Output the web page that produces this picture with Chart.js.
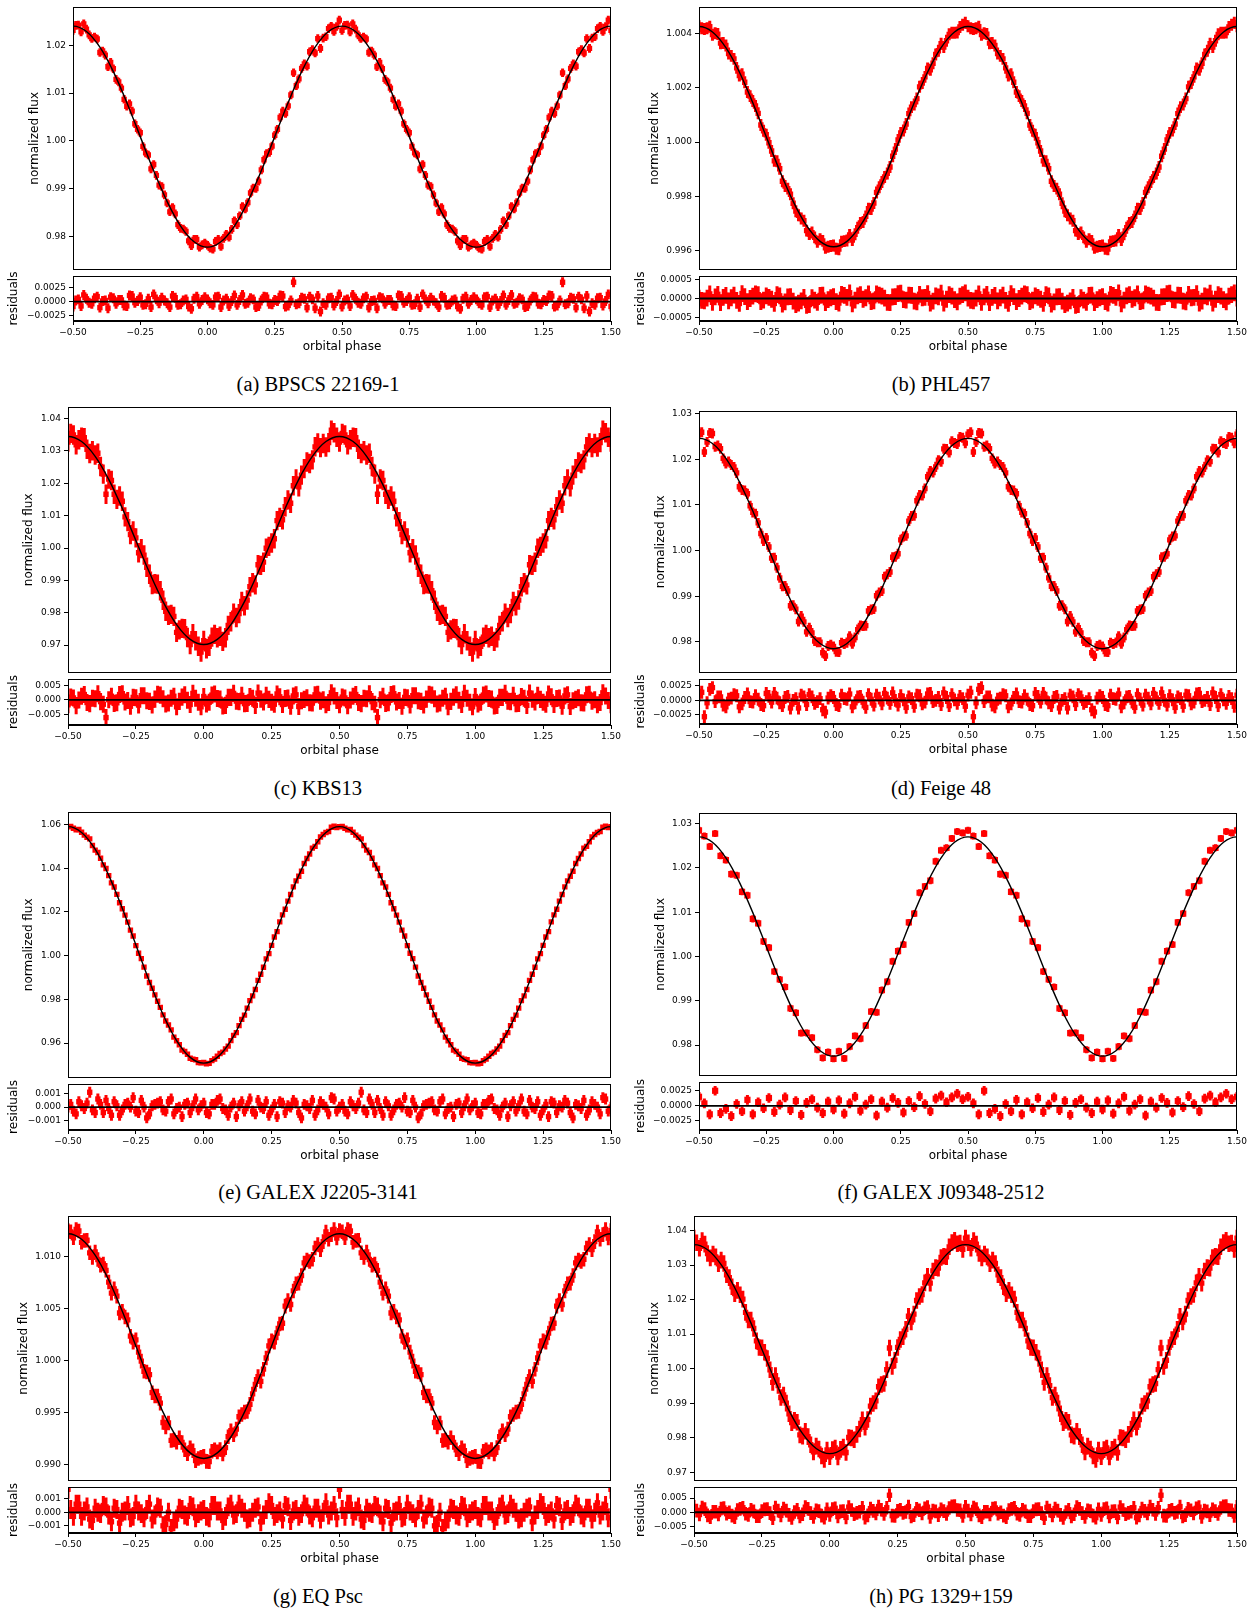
<!DOCTYPE html>
<html>
<head>
<meta charset="utf-8">
<script src="https://cdn.jsdelivr.net/npm/chart.js@4.4.1/dist/chart.umd.min.js"></script>
<style>
  body { margin: 0; background: #fff; width: 1260px; height: 1612px; position: relative; overflow: hidden; }
  canvas { position: absolute; }
  .cap { position: absolute; font-family: "Liberation Serif", "Times New Roman", serif; font-size: 20.5px; color: #000;
         transform: translate(-50%, -50%); white-space: nowrap; }
</style>
</head>
<body>
<script>
// phase-folded data, one cycle; plotted again at phase-1 and phase+1 like the original
const PHASE = [0.00,0.02,0.04,0.06,0.08,0.10,0.12,0.14,0.16,0.18,0.20,0.22,0.24,0.26,0.28,0.30,0.32,0.34,0.36,0.38,
               0.40,0.42,0.44,0.46,0.48,0.50,0.52,0.54,0.56,0.58,0.60,0.62,0.64,0.66,0.68,0.70,0.72,0.74,0.76,0.78,
               0.80,0.82,0.84,0.86,0.88,0.90,0.92,0.94,0.96,0.98];
const PHASE2 = [0.01,0.03,0.05,0.07,0.09,0.11,0.13,0.15,0.17,0.19,0.21,0.23,0.25,0.27,0.29,0.31,0.33,0.35,0.37,0.39,
                0.41,0.43,0.45,0.47,0.49,0.51,0.53,0.55,0.57,0.59,0.61,0.63,0.65,0.67,0.69,0.71,0.73,0.75,0.77,0.79,
                0.81,0.83,0.85,0.87,0.89,0.91,0.93,0.95,0.97,0.99];
const PHASE_ERR = 0.006; // half width of a phase bin
const MODEL_PHASE = [0.00,0.05,0.10,0.15,0.20,0.25,0.30,0.35,0.40,0.45,0.50,0.55,0.60,0.65,0.70,0.75,0.80,0.85,0.90,0.95,1.00];
const XTICKS = [-0.5,-0.25,0,0.25,0.5,0.75,1,1.25,1.5];

// (a) BPSCS 22169-1
const FLUX_A = [0.97820,0.97738,0.97943,0.97962,0.97986,0.98331,0.98436,0.98578,0.98912,0.99006,
                0.99396,0.99737,0.99895,1.00245,1.00623,1.00734,1.01424,1.01298,1.01612,1.01864,
                1.01839,1.01934,1.02178,1.02397,1.02392,1.02310,1.02422,1.02447,1.02218,1.02174,
                1.01849,1.01794,1.01642,1.01288,1.01104,1.00724,1.00623,1.00245,0.99885,0.99707,
                0.99506,0.99076,0.98872,0.98518,0.98476,0.98171,0.98106,0.97812,0.97943,0.97828];
const FLUX2_A = [0.97755,0.97901,0.97793,0.98050,0.98150,0.98250,0.98629,0.98712,0.99017,0.99160,
                 0.99606,0.99761,1.00120,1.00489,1.00574,1.00960,1.01153,1.01518,1.01561,1.01910,
                 1.02140,1.02150,1.02347,1.02289,1.02525,1.02415,1.02279,1.02337,1.02140,1.02130,
                 1.01880,1.01551,1.01508,1.01233,1.00870,1.00774,1.00359,1.00170,0.99751,0.99416,
                 0.99280,0.99047,0.98702,0.98609,0.98250,0.98160,0.97910,0.97943,0.97781,0.97865];
const RES_A = [0.0004,-0.0006,0.0009,0.0002,-0.0008,0.0011,0.0003,-0.0004,0.0006,-0.0010,
               0.0002,0.0008,-0.0005,0.0001,0.0010,-0.0007,0.0035,-0.0003,0.0005,0.0009,
               -0.0012,-0.0018,-0.0006,0.0007,0.0001,-0.0009,0.0004,0.0012,-0.0002,0.0006,
               -0.0011,0.0002,0.0008,-0.0004,0.0003,-0.0008,0.0010,0.0001,-0.0006,0.0005,
               0.0013,-0.0003,0.0002,-0.0010,0.0007,-0.0005,0.0004,-0.0013,0.0009,0.0003];
const RES2_A = [-0.0003,0.0008,-0.0010,0.0005,0.0001,-0.0006,0.0012,-0.0002,0.0004,-0.0008,
                0.0009,-0.0004,0.0003,0.0011,-0.0009,0.0002,-0.0005,0.0007,-0.0011,0.0004,
                0.0010,-0.0003,0.0006,-0.0007,0.0013,0.0002,-0.0008,0.0005,-0.0004,0.0009,
                0.0001,-0.0012,0.0006,0.0003,-0.0007,0.0011,-0.0002,0.0008,-0.0005,-0.0010,
                0.0004,0.0007,-0.0003,0.0010,-0.0006,0.0002,-0.0009,0.0005,-0.0004,0.0008];
const MODEL_A = [0.97780,0.97893,0.98221,0.98732,0.99376,1.00090,1.00804,1.01448,1.01959,1.02287,1.02400,
                 1.02287,1.01959,1.01448,1.00804,1.00090,0.99376,0.98732,0.98221,0.97893,0.97780];
const YTICKS_A = [0.98,0.99,1.00,1.01,1.02];
const RTICKS_A = [-0.0025,0,0.0025];

// (b) PHL457
const FLUX_B = [0.996200,0.996062,0.996357,0.996584,0.996611,0.997024,0.997268,0.997539,0.998150,0.998536,
                0.998849,0.999481,1.000076,1.000424,1.001049,1.001381,1.002034,1.002400,1.002661,1.003222,
                1.003616,1.003729,1.004026,1.004033,1.004318,1.004260,1.004158,1.004243,1.004006,1.003639,
                1.003556,1.003172,1.002731,1.002500,1.001844,1.001511,1.001059,1.000414,0.999976,0.999311,
                0.999019,0.998386,0.998080,0.997459,0.997188,0.996744,0.996671,0.996334,0.996367,0.996152];
const FLUX2_B = [0.996078,0.996332,0.996378,0.996396,0.996851,0.997059,0.997548,0.997759,0.998339,0.998719,
                 0.999083,0.999743,1.000340,1.000667,1.001287,1.001601,1.002171,1.002711,1.002902,1.003361,
                 1.003499,1.003964,1.004022,1.004238,1.004392,1.004192,1.004188,1.003952,1.003974,1.003649,
                 1.003261,1.003062,1.002451,1.002201,1.001691,1.001327,1.000627,1.000270,0.999673,0.999293,
                 0.998559,0.998289,0.997749,0.997308,0.997109,0.996621,0.996496,0.996428,0.996112,0.996178];
const RES_B = [0.00005,-0.00012,0.00008,0.00015,-0.00004,0.00010,0.00002,-0.00008,0.00012,0.00006,
               -0.00010,0.00004,0.00013,-0.00003,0.00009,-0.00007,0.00011,0.00003,-0.00012,0.00007,
               0.00014,-0.00002,0.00006,-0.00009,0.00010,0.00001,-0.00006,0.00012,0.00004,-0.00011,
               0.00008,0.00002,-0.00005,0.00013,-0.00008,0.00006,0.00010,-0.00004,0.00003,-0.00013,
               0.00007,-0.00009,0.00005,-0.00016,-0.00006,-0.00018,0.00002,-0.00010,0.00009,-0.00003];
const RES2_B = [-0.00008,0.00011,0.00003,-0.00014,0.00007,-0.00002,0.00012,-0.00006,0.00009,0.00001,
                -0.00011,0.00005,0.00014,-0.00004,0.00008,-0.00009,0.00002,0.00013,-0.00007,0.00004,
                -0.00012,0.00010,-0.00003,0.00006,0.00015,-0.00005,0.00001,-0.00010,0.00011,0.00003,
                -0.00006,0.00009,-0.00013,0.00005,0.00000,0.00012,-0.00008,0.00007,-0.00002,0.00010,
                -0.00015,0.00004,-0.00007,-0.00012,0.00003,-0.00016,-0.00004,0.00008,-0.00011,0.00002];
const MODEL_B = [0.996150,0.996348,0.996924,0.997819,0.998949,1.000200,1.001451,1.002581,1.003476,1.004052,1.004250,
                 1.004052,1.003476,1.002581,1.001451,1.000200,0.998949,0.997819,0.996924,0.996348,0.996150];
const YTICKS_B = [0.996,0.998,1.000,1.002,1.004];
const RTICKS_B = [-0.0005,0,0.0005];

// (c) KBS13
const FLUX_C = [0.97140,0.96965,0.97331,0.97276,0.97228,0.97724,0.97851,0.98346,0.98392,0.98926,
                0.99482,0.99563,1.00053,1.00287,1.00947,1.01278,1.01384,1.02138,1.02254,1.02659,
                1.02726,1.03252,1.03234,1.03259,1.03565,1.03280,1.03495,1.03349,1.03414,1.02922,
                1.02876,1.02519,1.01664,1.02088,1.01504,1.01448,1.00817,1.00527,0.99853,0.99783,
                0.99192,0.98896,0.98682,0.98046,0.97951,0.97394,0.97518,0.97236,0.97351,0.96965];
const FLUX2_C = [0.96886,0.97247,0.97227,0.97116,0.97611,0.97988,0.97974,0.98215,0.98806,0.98862,
                 0.99465,0.99992,1.00155,1.00848,1.00875,1.01488,1.01924,1.01895,1.02456,1.02612,
                 1.03129,1.03104,1.03123,1.03643,1.03424,1.03544,1.03193,1.03423,1.03054,1.03009,
                 1.02932,1.02286,1.02135,1.01664,1.01608,1.00965,1.00418,1.00315,0.99982,0.99405,
                 0.98872,0.98886,0.98385,0.97924,0.97888,0.97471,0.97506,0.97017,0.97137,0.96786];
const RES_C = [0.0012,-0.0008,0.0021,0.0003,-0.0019,0.0009,-0.0004,0.0016,-0.0012,0.0006,
               0.0024,-0.0007,0.0002,-0.0015,0.0011,0.0005,-0.0022,0.0018,-0.0003,0.0008,
               -0.0011,0.0020,0.0001,-0.0009,0.0014,-0.0017,0.0007,0.0000,0.0019,-0.0013,
               0.0004,-0.0006,-0.0062,0.0013,-0.0010,0.0022,-0.0002,0.0009,-0.0018,0.0015,
               -0.0005,0.0003,0.0017,-0.0014,0.0006,-0.0024,0.0010,-0.0001,0.0023,-0.0008];
const RES2_C = [-0.0014,0.0017,0.0005,-0.0021,0.0009,0.0023,-0.0006,-0.0013,0.0012,-0.0019,
                0.0003,0.0016,-0.0008,0.0021,-0.0016,0.0007,0.0014,-0.0023,0.0002,-0.0010,
                0.0018,-0.0004,-0.0017,0.0025,-0.0002,0.0010,-0.0020,0.0013,-0.0009,0.0006,
                0.0022,-0.0015,0.0001,-0.0012,0.0019,-0.0007,-0.0022,0.0008,0.0015,-0.0003,
                -0.0018,0.0020,0.0004,-0.0011,0.0013,-0.0005,0.0018,-0.0016,0.0006,-0.0024];
const MODEL_C = [0.97020,0.97177,0.97634,0.98345,0.99242,1.00235,1.01228,1.02125,1.02836,1.03293,1.03450,
                 1.03293,1.02836,1.02125,1.01228,1.00235,0.99242,0.98345,0.97634,0.97177,0.97020];
const YTICKS_C = [0.97,0.98,0.99,1.00,1.01,1.02,1.03,1.04];
const RTICKS_C = [-0.005,0,0.005];

// (d) Feige 48
const FLUX_D = [0.97900,0.97778,0.97952,0.98122,0.98095,0.98360,0.98355,0.98706,0.99010,0.99114,
                0.99483,0.99853,0.99930,1.00310,1.00647,1.00767,1.01216,1.01360,1.01744,1.01835,
                1.01950,1.02225,1.02398,1.02338,1.02472,1.02550,1.02162,1.02578,1.02278,1.02235,
                1.01910,1.01875,1.01704,1.01330,1.01246,1.00837,1.00607,1.00210,1.00080,0.99843,
                0.99403,0.99224,0.98790,0.98716,0.98565,0.98220,0.98195,0.97992,0.97762,0.97908];
const FLUX2_D = [0.97785,0.97981,0.97983,0.97959,0.98269,0.98349,0.98677,0.98720,0.99084,0.99427,
                 0.99532,0.99866,1.00235,1.00324,1.00758,1.01093,1.01206,1.01620,1.01713,1.01981,
                 1.02231,1.02151,1.02357,1.02489,1.02355,1.02595,1.02379,1.02567,1.02301,1.02021,
                 1.01951,1.01833,1.01400,1.01316,1.00983,1.00808,1.00374,1.00275,0.99836,0.99622,
                 0.99217,0.99114,0.98800,0.98447,0.98439,0.98309,0.98019,0.97993,0.97691,0.97935];
const RES_D = [0.0005,-0.0009,0.0003,0.0011,-0.0004,0.0007,-0.0012,0.0002,0.0009,-0.0006,
               0.0004,0.0013,-0.0008,0.0001,0.0006,-0.0010,0.0008,-0.0003,0.0012,0.0000,
               -0.0007,0.0005,0.0010,-0.0005,0.0003,0.0009,-0.0028,0.0019,-0.0002,0.0006,
               -0.0011,0.0004,0.0008,-0.0006,0.0011,-0.0003,0.0002,-0.0009,0.0007,0.0012,
               -0.0004,0.0005,-0.0013,0.0003,0.0009,-0.0007,0.0006,-0.0002,-0.0016,0.0004];
const RES2_D = [-0.0007,0.0009,0.0002,-0.0011,0.0006,-0.0003,0.0010,-0.0008,0.0004,0.0012,
                -0.0005,0.0000,0.0008,-0.0012,0.0003,0.0009,-0.0006,0.0011,-0.0002,0.0005,
                0.0013,-0.0009,0.0001,0.0007,-0.0010,0.0014,-0.0004,0.0022,0.0006,-0.0008,
                0.0002,0.0010,-0.0011,0.0005,-0.0002,0.0008,-0.0007,0.0012,-0.0003,0.0004,
                -0.0009,0.0007,0.0000,-0.0013,0.0006,0.0010,-0.0005,0.0003,-0.0020,0.0008];
const MODEL_D = [0.97850,0.97963,0.98290,0.98800,0.99443,1.00155,1.00867,1.01510,1.02020,1.02347,1.02460,
                 1.02347,1.02020,1.01510,1.00867,1.00155,0.99443,0.98800,0.98290,0.97963,0.97850];
const YTICKS_D = [0.98,0.99,1.00,1.01,1.02,1.03];
const RTICKS_D = [-0.0025,0,0.0025];

// (e) GALEX J2205-3141
const FLUX_E = [0.95110,0.95073,0.95270,0.95520,0.95729,0.96113,0.96476,0.97082,0.97601,0.98156,
                0.98868,0.99466,1.00090,1.00850,1.01544,1.02122,1.02794,1.03419,1.03858,1.04444,
                1.04917,1.05211,1.05540,1.05680,1.05917,1.05900,1.05827,1.05770,1.05510,1.05341,
                1.04827,1.04454,1.03988,1.03329,1.02804,1.02142,1.01534,1.00900,1.00110,0.99476,
                0.98768,0.98206,0.97631,0.97012,0.96606,0.96103,0.95679,0.95490,0.95260,0.95103];
const FLUX2_E = [0.95051,0.95196,0.95395,0.95585,0.95862,0.96352,0.96797,0.97280,0.97943,0.98449,
                 0.99145,0.99852,1.00470,1.01098,1.01865,1.02491,1.03147,1.03630,1.04213,1.04648,
                 1.04998,1.05425,1.05635,1.05874,1.05859,1.05909,1.05754,1.05645,1.05415,1.05038,
                 1.04718,1.04153,1.03660,1.03137,1.02421,1.01855,1.01168,1.00460,0.99862,0.99065,
                 0.98509,0.97913,0.97290,0.96827,0.96272,0.95922,0.95615,0.95305,0.95236,0.95101];
const RES_E = [0.0003,-0.0005,0.0002,0.0006,-0.0002,0.0000,-0.0007,0.0004,0.0001,-0.0003,
               0.0005,-0.0001,-0.0006,0.0002,0.0004,-0.0004,0.0000,0.0003,-0.0008,0.0001,
               0.0005,-0.0002,0.0002,-0.0005,0.0006,0.0000,-0.0003,0.0004,-0.0001,0.0011,
               -0.0004,0.0002,0.0005,-0.0006,0.0001,-0.0002,0.0003,0.0007,-0.0004,0.0000,
               -0.0005,0.0002,0.0004,-0.0003,0.0006,-0.0001,-0.0007,0.0003,0.0001,-0.0002];
const RES2_E = [-0.0004,0.0002,0.0005,-0.0001,-0.0006,0.0003,0.0001,-0.0003,0.0006,-0.0005,
                0.0000,0.0004,-0.0002,-0.0007,0.0003,0.0001,0.0005,-0.0004,0.0002,-0.0001,
                -0.0006,0.0004,0.0000,0.0007,-0.0003,0.0002,-0.0005,0.0001,0.0003,-0.0002,
                0.0006,-0.0004,-0.0001,0.0004,-0.0006,0.0002,0.0000,-0.0003,0.0005,-0.0008,
                0.0001,0.0003,-0.0002,0.0004,-0.0005,0.0000,0.0002,-0.0004,0.0006,0.0001];
const MODEL_E = [0.95080,0.95345,0.96113,0.97310,0.98818,1.00490,1.02162,1.03670,1.04867,1.05635,1.05900,
                 1.05635,1.04867,1.03670,1.02162,1.00490,0.98818,0.97310,0.96113,0.95345,0.95080];
const YTICKS_E = [0.96,0.98,1.00,1.02,1.04,1.06];
const RTICKS_E = [-0.001,0,0.001];

// (f) GALEX J09348-2512 (sparser light curve, one set only)
const FLUX_F = [0.97690,0.97860,0.97698,0.97964,0.98206,0.98143,0.98441,0.98757,0.98739,0.99241,
                0.99430,0.99891,1.00120,1.00270,1.00769,1.00970,1.01439,1.01581,1.01713,1.02149,
                1.02397,1.02454,1.02666,1.02822,1.02790,1.02850,1.02720,1.02482,1.02776,1.02274,
                1.02177,1.01859,1.01833,1.01461,1.01379,1.00850,1.00749,1.00340,1.00200,0.99661,
                0.99480,0.99311,0.98829,0.98727,0.98271,0.98273,0.98166,0.97894,0.97708,0.97840];
const FLUX2_F = [];
const RES_F = [-0.0006,0.0009,-0.0013,0.0004,0.0015,-0.0008,0.0002,0.0011,-0.0016,0.0007,
               -0.0003,0.0013,0.0005,-0.0011,0.0008,-0.0002,0.0016,0.0003,-0.0009,0.0012,
               0.0017,0.0006,0.0014,0.0020,0.0011,0.0015,0.0004,-0.0014,0.0025,-0.0012,
               -0.0005,-0.0017,0.0003,-0.0009,0.0010,-0.0014,0.0006,-0.0004,0.0013,-0.0010,
               0.0002,0.0014,-0.0007,0.0008,-0.0015,0.0005,0.0011,-0.0003,-0.0012,0.0007];
const RES2_F = [];
const MODEL_F = [0.97750,0.97871,0.98223,0.98770,0.99460,1.00225,1.00990,1.01680,1.02227,1.02579,1.02700,
                 1.02579,1.02227,1.01680,1.00990,1.00225,0.99460,0.98770,0.98223,0.97871,0.97750];
const YTICKS_F = [0.98,0.99,1.00,1.01,1.02,1.03];
const RTICKS_F = [-0.0025,0,0.0025];

// (g) EQ Psc
const FLUX_G = [0.99080,0.99029,0.99144,0.99146,0.99164,0.99326,0.99343,0.99482,0.99511,0.99680,
                0.99846,0.99918,1.00142,1.00178,1.00352,1.00524,1.00540,1.00739,1.00818,1.00967,
                1.00974,1.01116,1.01144,1.01166,1.01261,1.01250,1.01181,1.01246,1.01154,1.01036,
                1.01044,1.00917,1.00868,1.00649,1.00620,1.00474,1.00392,1.00178,1.00082,0.99898,
                0.99866,0.99660,0.99591,0.99362,0.99233,0.99216,0.99214,0.99106,0.99134,0.99059];
const FLUX2_G = [0.99032,0.99129,0.99123,0.99103,0.99268,0.99288,0.99461,0.99505,0.99580,0.99772,
                 0.99801,1.00025,1.00190,1.00265,1.00359,1.00578,1.00670,1.00745,1.00939,1.00952,
                 1.01082,1.01067,1.01237,1.01211,1.01178,1.01238,1.01261,1.01137,1.01157,1.00992,
                 1.00972,1.00929,1.00755,1.00690,1.00458,1.00419,1.00235,1.00200,0.99995,0.99891,
                 0.99692,0.99660,0.99405,0.99401,0.99238,0.99258,0.99143,0.99163,0.99039,0.99072];
const RES_G = [0.0002,-0.0004,0.0005,0.0001,-0.0003,0.0006,-0.0001,0.0003,-0.0005,0.0000,
               0.0004,-0.0002,0.0007,-0.0003,0.0001,0.0005,-0.0006,0.0002,-0.0001,0.0004,
               -0.0004,0.0003,0.0000,-0.0002,0.0005,0.0017,-0.0003,0.0006,0.0001,-0.0005,
               0.0003,-0.0001,0.0004,-0.0007,0.0002,0.0000,0.0005,-0.0003,0.0001,-0.0004,
               0.0006,-0.0002,0.0003,-0.0009,-0.0012,-0.0005,0.0002,-0.0003,0.0004,-0.0001];
const RES2_G = [-0.0003,0.0005,0.0001,-0.0006,0.0004,-0.0002,0.0006,0.0000,-0.0004,0.0003,
                -0.0007,0.0002,0.0005,-0.0001,-0.0005,0.0004,0.0001,-0.0003,0.0006,-0.0002,
                0.0003,-0.0005,0.0007,0.0001,-0.0004,0.0002,0.0006,-0.0003,0.0004,-0.0006,
                0.0000,0.0005,-0.0002,0.0003,-0.0008,0.0001,-0.0004,0.0006,-0.0001,0.0002,
                -0.0005,0.0004,-0.0010,0.0000,-0.0007,0.0003,-0.0002,0.0005,-0.0004,0.0001];
const MODEL_G = [0.99060,0.99113,0.99266,0.99505,0.99806,1.00140,1.00474,1.00775,1.01014,1.01167,1.01220,
                 1.01167,1.01014,1.00775,1.00474,1.00140,0.99806,0.99505,0.99266,0.99113,0.99060];
const YTICKS_G = [0.990,0.995,1.000,1.005,1.010];
const RTICKS_G = [-0.001,0,0.001];

// (h) PG 1329+159
const FLUX_H = [0.97450,0.97704,0.97665,0.97572,0.97994,0.98098,0.98520,0.98527,0.98994,0.99477,
                0.99570,1.00598,1.00245,1.00845,1.01142,1.01350,1.01973,1.02146,1.02673,1.02830,
                1.02912,1.03256,1.03528,1.03715,1.03636,1.03780,1.03486,1.03605,1.03208,1.03236,
                1.03142,1.02720,1.02373,1.02266,1.02013,1.01410,1.01162,1.00615,1.00475,0.99968,
                0.99800,0.99167,0.99004,0.98437,0.98450,0.98048,0.98034,0.97592,0.97675,0.97374];
const FLUX2_H = [0.97656,0.97444,0.97728,0.98008,0.97941,0.98254,0.98304,0.98917,0.99068,0.99541,
                 0.99973,1.00066,1.00615,1.00924,1.01517,1.01579,1.02092,1.02483,1.02476,1.02926,
                 1.03219,1.03242,1.03652,1.03616,1.03454,1.03644,1.03706,1.03332,1.03322,1.03039,
                 1.03046,1.02636,1.02173,1.02142,1.01629,1.01407,1.00804,1.00605,1.00296,0.99603,
                 0.99511,0.99238,0.98697,0.98504,0.98084,0.98191,0.97798,0.97758,0.97474,0.97646];
const RES_H = [-0.0009,0.0014,0.0003,-0.0018,0.0008,-0.0002,0.0016,-0.0011,0.0005,0.0020,
               -0.0006,0.0060,-0.0013,0.0009,0.0001,-0.0015,0.0012,-0.0004,0.0018,0.0006,
               -0.0010,0.0004,0.0015,0.0022,0.0007,0.0019,-0.0008,0.0011,-0.0017,0.0002,
               0.0013,-0.0005,-0.0012,0.0008,0.0016,-0.0009,0.0003,-0.0014,0.0010,-0.0003,
               0.0017,-0.0011,0.0006,-0.0020,0.0009,-0.0007,0.0012,-0.0016,0.0004,-0.0019];
const RES2_H = [0.0011,-0.0015,0.0004,0.0018,-0.0007,0.0002,-0.0019,0.0013,-0.0004,0.0009,
                0.0016,-0.0012,0.0005,-0.0002,0.0020,-0.0010,0.0007,0.0014,-0.0016,0.0003,
                0.0010,-0.0006,0.0021,0.0008,-0.0013,0.0006,0.0017,-0.0011,0.0002,-0.0008,
                0.0015,0.0000,-0.0017,0.0012,-0.0005,0.0009,-0.0014,0.0004,0.0011,-0.0021,
                0.0006,0.0013,-0.0009,0.0001,-0.0015,0.0018,-0.0003,0.0007,-0.0012,0.0010];
const MODEL_H = [0.97540,0.97688,0.98118,0.98787,0.99630,1.00565,1.01500,1.02343,1.03012,1.03442,1.03590,
                 1.03442,1.03012,1.02343,1.01500,1.00565,0.99630,0.98787,0.98118,0.97688,0.97540];
const YTICKS_H = [0.97,0.98,0.99,1.00,1.01,1.02,1.03,1.04];
const RTICKS_H = [-0.005,0,0.005];

// flux errors per star
const ERRORS = [0.0009, 0.00022, 0.0030, 0.0011, 0.0004, 0.0008, 0.0007, 0.0024];
const NAMES = ['(a) BPSCS 22169-1', '(b) PHL457', '(c) KBS13', '(d) Feige 48',
               '(e) GALEX J2205-3141', '(f) GALEX J09348-2512', '(g) EQ Psc', '(h) PG 1329+159'];

const SERIES = [
  [FLUX_A, FLUX2_A, RES_A, RES2_A, MODEL_A, YTICKS_A, RTICKS_A],
  [FLUX_B, FLUX2_B, RES_B, RES2_B, MODEL_B, YTICKS_B, RTICKS_B],
  [FLUX_C, FLUX2_C, RES_C, RES2_C, MODEL_C, YTICKS_C, RTICKS_C],
  [FLUX_D, FLUX2_D, RES_D, RES2_D, MODEL_D, YTICKS_D, RTICKS_D],
  [FLUX_E, FLUX2_E, RES_E, RES2_E, MODEL_E, YTICKS_E, RTICKS_E],
  [FLUX_F, FLUX2_F, RES_F, RES2_F, MODEL_F, YTICKS_F, RTICKS_F],
  [FLUX_G, FLUX2_G, RES_G, RES2_G, MODEL_G, YTICKS_G, RTICKS_G],
  [FLUX_H, FLUX2_H, RES_H, RES2_H, MODEL_H, YTICKS_H, RTICKS_H]
];

// page layout of each panel (axes edges in px) and axis limits
const PANELS = [
  {x0: 0,   L: 73,  R: 611,  T: 7,    M: 276,  B: 321,  fx: 35,  rx: 14,  capX: 318, capY: 383.5,  ylim: [0.9731, 1.0280],  rlim: [-0.00352, 0.00463], yd: 2, rd: 4},
  {x0: 630, L: 699, R: 1237, T: 7,    M: 276,  B: 321,  fx: 655, rx: 641, capX: 941, capY: 383.5,  ylim: [0.99531, 1.00497], rlim: [-0.00059, 0.00059], yd: 3, rd: 4},
  {x0: 0,   L: 68,  R: 611,  T: 407,  M: 679,  B: 725,  fx: 29,  rx: 14,  capX: 318, capY: 788.3,  ylim: [0.9615, 1.0436],  rlim: [-0.0088, 0.00736],  yd: 2, rd: 3},
  {x0: 630, L: 699, R: 1237, T: 411,  M: 679,  B: 724,  fx: 661, rx: 641, capX: 941, capY: 788.3,  ylim: [0.97326, 1.0306], rlim: [-0.00405, 0.00368], yd: 2, rd: 4},
  {x0: 0,   L: 68,  R: 611,  T: 812,  M: 1084, B: 1130, fx: 29,  rx: 14,  capX: 318, capY: 1192.2, ylim: [0.9442, 1.0657],  rlim: [-0.00169, 0.00171], yd: 2, rd: 3},
  {x0: 630, L: 699, R: 1237, T: 813,  M: 1082, B: 1130, fx: 661, rx: 641, capX: 941, capY: 1192.2, ylim: [0.9731, 1.0324],  rlim: [-0.0040, 0.00395],  yd: 2, rd: 4},
  {x0: 0,   L: 68,  R: 611,  T: 1216, M: 1487, B: 1533, fx: 24,  rx: 14,  capX: 318, capY: 1596,   ylim: [0.98847, 1.0139], rlim: [-0.00153, 0.00187], yd: 3, rd: 3},
  {x0: 630, L: 694, R: 1237, T: 1216, M: 1487, B: 1533, fx: 655, rx: 641, capX: 941, capY: 1596,   ylim: [0.9676, 1.0442],  rlim: [-0.0073, 0.0089],   yd: 2, rd: 3}
];

Chart.defaults.font.family = 'DejaVu Sans';
Chart.defaults.color = '#000';

const fmt = (v, d) => Number(v).toFixed(d).replace('-', '\u2212');

function fold(values, phases) {
  const pts = [];
  [-1, 0, 1].forEach(k => {
    phases.forEach((p, i) => {
      const x = p + k;
      if (values[i] === undefined) return;
      if (x >= -0.5 - PHASE_ERR && x <= 1.5 + PHASE_ERR) pts.push({x: x, y: values[i]});
    });
  });
  return pts;
}

function foldModel(values) {
  const pts = [];
  [-1, 0, 1].forEach(k => {
    MODEL_PHASE.forEach((p, i) => {
      if (k < 1 && i === MODEL_PHASE.length - 1) return;
      pts.push({x: p + k, y: values[i]});
    });
  });
  return pts;
}

// x and y error bars, drawn under the markers
const errorBars = {
  id: 'errorBars',
  beforeDatasetsDraw(chart) {
    const ds = chart.data.datasets[1];
    const a = chart.chartArea, ctx = chart.ctx;
    const xs = chart.scales.x, ys = chart.scales.y;
    ctx.save();
    ctx.beginPath();
    ctx.rect(a.left, a.top, a.right - a.left, a.bottom - a.top);
    ctx.clip();
    ctx.strokeStyle = '#ff0000';
    ctx.lineCap = 'butt';
    ctx.lineWidth = 3;
    ctx.beginPath();
    ds.data.forEach(pt => {
      const px = xs.getPixelForValue(pt.x);
      const py = ys.getPixelForValue(pt.y);
      ctx.moveTo(px, ys.getPixelForValue(pt.y - ds.err));
      ctx.lineTo(px, ys.getPixelForValue(pt.y + ds.err));
      ctx.moveTo(xs.getPixelForValue(pt.x - PHASE_ERR), py);
      ctx.lineTo(xs.getPixelForValue(pt.x + PHASE_ERR), py);
    });
    ctx.stroke();
    ctx.restore();
  }
};

const frame = {
  id: 'frame',
  afterDraw(chart) {
    const a = chart.chartArea, ctx = chart.ctx;
    const l = Math.round(a.left) + 0.5, t = Math.round(a.top) + 0.5;
    const r = Math.round(a.right) - 0.5, b = Math.round(a.bottom) - 0.5;
    ctx.save();
    ctx.strokeStyle = '#000';
    ctx.lineWidth = 1;
    ctx.strokeRect(l, t, r - l, b - t);
    ctx.restore();
  }
};

function makeCanvas(left, top, w, h) {
  const c = document.createElement('canvas');
  c.width = w; c.height = h;
  c.style.left = left + 'px';
  c.style.top = top + 'px';
  c.style.width = w + 'px';
  c.style.height = h + 'px';
  document.body.appendChild(c);
  return c;
}

function yAxis(lim, ticks, dec, width, title, titleX) {
  return {
    type: 'linear', position: 'left', min: lim[0], max: lim[1],
    afterBuildTicks: s => { s.ticks = ticks.map(v => ({value: v})); },
    afterFit: s => { s.width = width; },
    ticks: {font: {size: 9}, padding: 3, callback: v => fmt(v, dec)},
    grid: {drawOnChartArea: false, drawTicks: true, tickLength: 4, color: '#000'},
    border: {color: '#000'},
    title: {display: true, text: title, font: {size: 12}, padding: {top: titleX - 7.2, bottom: 0}}
  };
}

PANELS.forEach((P, n) => {
  const [flux, flux2, res, res2, model, yticks, rticks] = SERIES[n];
  const err = ERRORS[n];
  const w = P.R - P.x0 + 16;
  const yW = P.L - P.x0;
  const size = flux2.length ? 3.8 : 4.4;

  // light curve
  const c1 = makeCanvas(P.x0, P.T - 10, w, P.M - P.T + 12);
  new Chart(c1, {
    type: 'line',
    data: {datasets: [
      {data: foldModel(model), borderColor: '#000', borderWidth: 1.4, pointRadius: 0,
       cubicInterpolationMode: 'monotone', clip: 0},
      {data: fold(flux, PHASE).concat(fold(flux2, PHASE2)), showLine: false, pointStyle: 'rect', pointRadius: size,
       pointBackgroundColor: '#ff0000', pointBorderWidth: 0, err: err, clip: 0}
    ]},
    options: {
      responsive: false, animation: false, events: [],
      layout: {padding: {left: 0, right: 16, top: 10, bottom: 2}},
      plugins: {legend: {display: false}, tooltip: {enabled: false}},
      scales: {
        x: {type: 'linear', display: false, min: -0.5, max: 1.5},
        y: yAxis(P.ylim, yticks, P.yd, yW, 'normalized flux', P.fx - P.x0)
      }
    },
    plugins: [errorBars, frame]
  });

  // residuals
  const c2 = makeCanvas(P.x0, P.M - 10, w, P.B - P.M + 46);
  new Chart(c2, {
    type: 'line',
    data: {datasets: [
      {data: [{x: -0.5, y: 0}, {x: 1.5, y: 0}], borderColor: '#000', borderWidth: 1.8, pointRadius: 0, clip: 0},
      {data: fold(res, PHASE).concat(fold(res2, PHASE2)), showLine: false, pointStyle: 'rect', pointRadius: size,
       pointBackgroundColor: '#ff0000', pointBorderWidth: 0, err: err, clip: 0}
    ]},
    options: {
      responsive: false, animation: false, events: [],
      layout: {padding: {left: 0, right: 16, top: 10, bottom: 2}},
      plugins: {legend: {display: false}, tooltip: {enabled: false}},
      scales: {
        x: {
          type: 'linear', position: 'bottom', min: -0.5, max: 1.5,
          afterBuildTicks: s => { s.ticks = XTICKS.map(v => ({value: v})); },
          afterFit: s => { s.height = 34; },
          ticks: {font: {size: 9}, padding: 2, maxRotation: 0, autoSkip: false, callback: v => fmt(v, 2)},
          grid: {drawOnChartArea: false, drawTicks: true, tickLength: 4, color: '#000'},
          border: {color: '#000'},
          title: {display: true, text: 'orbital phase', font: {size: 12}, padding: {top: 0, bottom: 1}}
        },
        y: yAxis(P.rlim, rticks, P.rd, yW, 'residuals', P.rx - P.x0)
      }
    },
    plugins: [errorBars, frame]
  });

  const cap = document.createElement('div');
  cap.className = 'cap';
  cap.style.left = P.capX + 'px';
  cap.style.top = P.capY + 'px';
  cap.textContent = NAMES[n];
  document.body.appendChild(cap);
});
</script>
</body>
</html>
